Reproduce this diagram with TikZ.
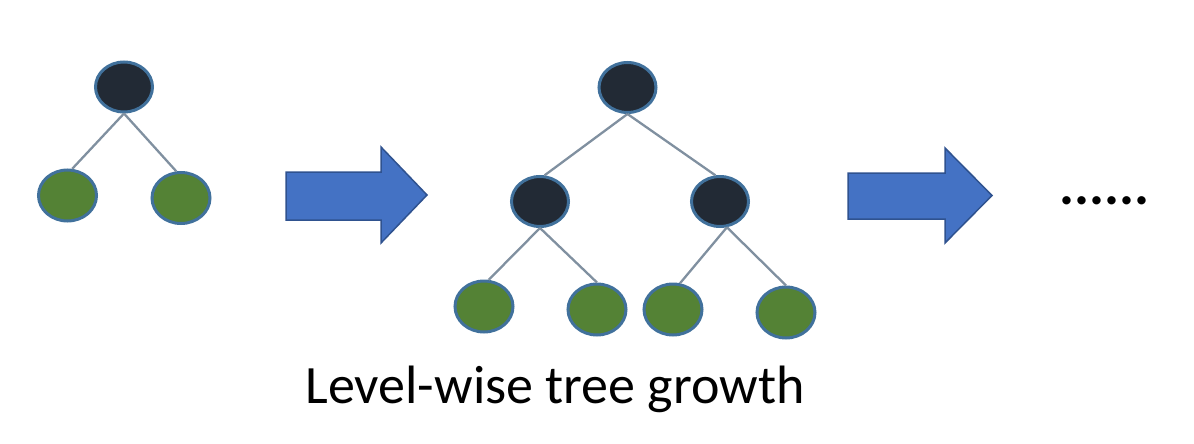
\documentclass[tikz,border=0pt]{standalone}
\usepackage{fontspec}
\setmainfont{Carlito}
\usetikzlibrary{shapes.geometric,shapes.arrows}
\definecolor{darknode}{HTML}{222A35}
\definecolor{greennode}{HTML}{548235}
\definecolor{nodeline}{HTML}{41719C}
\definecolor{edgegray}{HTML}{8090A0}
\definecolor{arrowfill}{HTML}{4472C4}
\definecolor{arrowline}{HTML}{2F528F}
\begin{document}
\begin{tikzpicture}[x=1pt,y=-1pt,
  inner/.style={ellipse,draw=nodeline,line width=3pt,fill=darknode,minimum width=57pt,minimum height=50pt,inner sep=0pt},
  leaf/.style={ellipse,draw=nodeline,line width=3pt,fill=greennode,minimum width=58pt,minimum height=51pt,inner sep=0pt},
  edge/.style={draw=edgegray,line width=2.3pt},
  bigarrow/.style={fill=arrowfill,draw=arrowline,line width=1.5pt,line join=miter}]
\useasboundingbox (0,0) rectangle (1194,444);
% left tree
\node[inner] (r1) at (124,87) {};
\node[leaf] (a1) at (67.5,195.5) {};
\node[leaf] (a2) at (181,198) {};
\draw[edge] (r1.south) -- (a1.80);
\draw[edge] (r1.south) -- (a2.100);
% arrow 1
\draw[bigarrow] (286,172) coordinate (ar1) -- (381,172) -- (381,147) -- (427,195) -- (381,243) -- (381,220) -- (286,220) -- cycle;
% middle tree
\node[inner] (r2) at (627.5,87.5) {};
\node[inner] (m1) at (540,201.5) {};
\node[inner] (m2) at (720,201.5) {};
\node[leaf] (b1) at (484,306.5) {};
\node[leaf] (b2) at (597,309.5) {};
\node[leaf] (b3) at (673,309.5) {};
\node[leaf] (b4) at (786,312.5) {};
\draw[edge] (r2.south) -- (m1.80);
\draw[edge] (r2.south) -- (m2.100);
\draw[edge] (m1.south) -- (b1.80);
\draw[edge] (m1.south) -- (b2.north);
\draw[edge] (m2.-75) -- (b3.75);
\draw[edge] (m2.-75) -- (b4.north);
% arrow 2
\draw[bigarrow] (848,173) -- (945,173) -- (945,148) -- (992,195.5) -- (945,243) -- (945,219) -- (848,219) -- cycle;
% dots
\node[font=\fontsize{56}{60}\selectfont\bfseries,anchor=base,inner sep=0pt] (dots) at (1104.5,204) {......};
% caption
\node[font=\fontsize{54}{60}\selectfont,anchor=base,inner sep=0pt] (cap) at (555,403) {Level-wise tree growth};
\end{tikzpicture}
\end{document}
